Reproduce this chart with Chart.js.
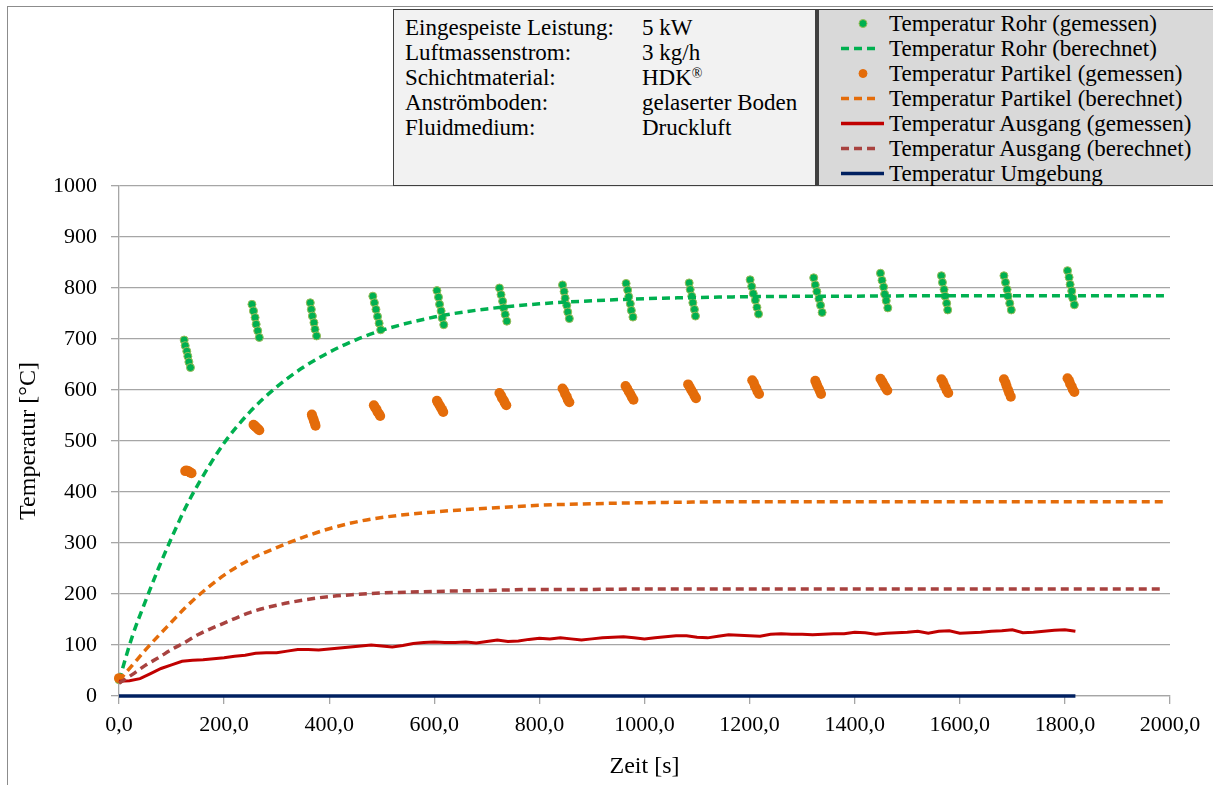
<!DOCTYPE html>
<html lang="de">
<head>
<meta charset="utf-8">
<title>Temperaturverlauf</title>
<script src="https://cdn.jsdelivr.net/npm/chart.js@4.4.1/dist/chart.umd.min.js"></script>
<style>
  html, body { margin: 0; padding: 0; background: #fff; }
  #wrap { position: relative; width: 1213px; height: 785px; overflow: hidden; font-family: "Liberation Serif", "Times New Roman", serif; }
  #frame { position: absolute; left: 7px; top: 6px; width: 1300px; height: 900px; border-left: 1px solid #8c8c8c; border-top: 1px solid #8c8c8c; }
  canvas { position: absolute; left: 0; top: 0; }
  .box { position: absolute; box-sizing: border-box; font-size: 23px; color: #000; }
  #info { left: 393px; top: 9px; width: 424px; height: 177px; background: #f2f2f2; border: 1px solid #404040; border-right: 2px solid #404040; }
  #legend { left: 817px; top: 9px; width: 420px; height: 177px; background: #d9d9d9; border: 1px solid #404040; border-left: 2px solid #404040; }
  .row { position: absolute; height: 25px; line-height: 25px; white-space: nowrap; }
  .row svg { position: absolute; top: 0; }
  sup { font-size: 14px; vertical-align: 7px; line-height: 0; }
</style>
</head>
<body>
<div id="wrap">
  <div id="frame"></div>
  <canvas id="myChart" width="1213" height="785"></canvas>
  <div id="info" class="box"></div>
  <div id="legend" class="box"></div>
</div>
<script>
// Versuchsparameter
const infoLabels = ["Eingespeiste Leistung:", "Luftmassenstrom:", "Schichtmaterial:", "Anströmboden:", "Fluidmedium:"];
const infoValues = ["5 kW", "3 kg/h", "HDK<sup>®</sup>", "gelaserter Boden", "Druckluft"];

// berechnete Verläufe
const zeitBerechnet = [0, 25, 50, 75, 100, 125, 150, 200, 250, 300, 350, 400, 450, 500, 600, 700, 800, 900, 1000, 1200, 1400, 1600, 1800, 1990];
const rohrBerechnet = [30, 116, 185, 250, 310, 366, 414, 496, 558, 606, 644, 674, 698, 717, 743, 759, 769, 775, 779, 783, 784, 785, 785, 785];
const partikelBerechnet = [30, 60, 90, 118, 145, 172, 196, 237, 268, 291, 311, 328, 341, 350, 361, 368, 374, 377, 379, 381, 381, 381, 381, 381];
const ausgangBerechnet = [25, 42, 60, 75, 91, 105, 120, 143, 164, 178, 188, 195, 199, 202, 205, 207, 209, 209, 210, 210, 210, 210, 210, 210];

// gemessen: Rohr
const rohrZeit = [0,
  124, 126, 129, 131, 133, 136,
  253, 256, 259, 261, 264, 267,
  364, 366, 368, 371, 373, 376,
  483, 486, 489, 492, 495, 498,
  605, 608, 610, 613, 615, 618,
  724, 727, 730, 732, 735, 738,
  844, 847, 849, 852, 854, 857,
  965, 968, 970, 973, 975, 978,
  1085, 1087, 1090, 1092, 1095, 1097,
  1201, 1204, 1207, 1211, 1214, 1217,
  1322, 1325, 1328, 1332, 1335, 1338,
  1449, 1452, 1455, 1457, 1460, 1463,
  1565, 1567, 1570, 1572, 1575, 1577,
  1684, 1687, 1690, 1692, 1695, 1698,
  1805, 1808, 1810, 1813, 1815, 1818];
const rohrGemessen = [32,
  698, 687, 676, 666, 655, 644,
  768, 755, 742, 729, 716, 703,
  771, 758, 745, 732, 719, 706,
  784, 771, 758, 744, 731, 718,
  795, 782, 768, 755, 741, 728,
  800, 787, 774, 761, 748, 735,
  806, 793, 780, 766, 753, 740,
  809, 796, 783, 769, 756, 743,
  810, 797, 784, 771, 758, 745,
  816, 803, 789, 776, 762, 749,
  820, 806, 793, 779, 766, 752,
  829, 815, 802, 788, 775, 761,
  824, 811, 797, 784, 770, 757,
  824, 811, 797, 784, 770, 757,
  834, 821, 807, 794, 780, 767];

// gemessen: Partikel
const partikelZeit = [0,
  126, 128, 131, 133, 136, 138,
  256, 258, 260, 263, 265, 267,
  367, 368, 370, 371, 373, 374,
  485, 487, 490, 492, 495, 497,
  605, 607, 610, 612, 615, 617,
  724, 727, 729, 732, 734, 737,
  844, 847, 849, 852, 854, 857,
  964, 967, 970, 973, 976, 979,
  1083, 1086, 1089, 1092, 1095, 1098,
  1205, 1208, 1210, 1213, 1215, 1218,
  1325, 1327, 1329, 1332, 1334, 1336,
  1449, 1452, 1454, 1457, 1459, 1462,
  1565, 1568, 1570, 1573, 1575, 1578,
  1684, 1687, 1689, 1692, 1694, 1697,
  1805, 1808, 1810, 1813, 1815, 1818];
const partikelGemessen = [35,
  441, 442, 441, 440, 438, 437,
  532, 530, 528, 525, 523, 521,
  552, 548, 543, 539, 534, 530,
  570, 566, 562, 557, 553, 549,
  579, 575, 570, 566, 561, 557,
  594, 589, 584, 580, 575, 570,
  603, 598, 592, 587, 581, 576,
  608, 603, 597, 592, 586, 581,
  611, 606, 600, 595, 589, 584,
  619, 614, 608, 603, 597, 592,
  618, 613, 608, 602, 597, 592,
  622, 617, 613, 608, 604, 599,
  621, 616, 610, 605, 599, 594,
  621, 614, 608, 600, 594, 587,
  623, 618, 612, 607, 601, 596];

// gemessen: Ausgang
const ausgangZeit = [0, 20, 40, 60, 80, 100, 120, 140, 160, 180,
  200, 220, 240, 260, 280, 300, 320, 340, 360, 380,
  400, 420, 440, 460, 480, 500, 520, 540, 560, 580,
  600, 620, 640, 660, 680, 700, 720, 740, 760, 780,
  800, 820, 840, 860, 880, 900, 920, 940, 960, 980,
  1000, 1020, 1040, 1060, 1080, 1100, 1120, 1140, 1160, 1180,
  1200, 1220, 1240, 1260, 1280, 1300, 1320, 1340, 1360, 1380,
  1400, 1420, 1440, 1460, 1480, 1500, 1520, 1540, 1560, 1580,
  1600, 1620, 1640, 1660, 1680, 1700, 1720, 1740, 1760, 1780,
  1800, 1820];
const ausgangGemessen = [29, 30, 34, 44, 54, 61, 68, 70, 71, 73,
  75, 78, 80, 84, 85, 85, 88, 91, 91, 90,
  92, 94, 96, 98, 100, 98, 96, 99, 103, 105,
  106, 105, 105, 106, 104, 107, 110, 107, 108, 111,
  113, 112, 114, 112, 110, 112, 114, 115, 116, 114,
  112, 114, 116, 118, 118, 115, 114, 117, 120, 119,
  118, 117, 121, 122, 121, 121, 120, 121, 122, 122,
  125, 124, 121, 123, 124, 125, 127, 123, 127, 128,
  123, 124, 125, 127, 128, 130, 124, 125, 127, 129,
  130, 127];

// Umgebung
const umgebungZeit = [0, 1820];
const umgebung = [0, 0];

const pts = (xs, ys) => xs.map((x, i) => ({ x: x, y: ys[i] }));
const serif = "'Liberation Serif', 'Times New Roman', serif";
const gridCol = "#a6a6a6";

const datasets = [
  { label: "Temperatur Rohr (gemessen)", data: pts(rohrZeit, rohrGemessen), showLine: false,
    pointRadius: 4, backgroundColor: "#00b050", borderColor: "#9bbb59", borderWidth: 1 },
  { label: "Temperatur Rohr (berechnet)", data: pts(zeitBerechnet, rohrBerechnet), borderColor: "#00b050",
    borderWidth: 3.5, borderDash: [8, 5], pointRadius: 0, cubicInterpolationMode: "monotone" },
  { label: "Temperatur Partikel (gemessen)", data: pts(partikelZeit, partikelGemessen), showLine: false,
    pointRadius: 5, backgroundColor: "#e46c0a", borderColor: "#e46c0a", borderWidth: 0 },
  { label: "Temperatur Partikel (berechnet)", data: pts(zeitBerechnet, partikelBerechnet), borderColor: "#e46c0a",
    borderWidth: 3.5, borderDash: [8, 5], pointRadius: 0, cubicInterpolationMode: "monotone" },
  { label: "Temperatur Ausgang (gemessen)", data: pts(ausgangZeit, ausgangGemessen), borderColor: "#c00000",
    borderWidth: 3, pointRadius: 0, tension: 0 },
  { label: "Temperatur Ausgang (berechnet)", data: pts(zeitBerechnet, ausgangBerechnet), borderColor: "#a8423f",
    borderWidth: 3.5, borderDash: [8, 5], pointRadius: 0, cubicInterpolationMode: "monotone" },
  { label: "Temperatur Umgebung", data: pts(umgebungZeit, umgebung), borderColor: "#002060",
    borderWidth: 3.5, pointRadius: 0 }
];
// later series on top, like in the original
datasets.forEach((d, i) => { d.order = datasets.length - i; d.fill = false; d.clip = 6; });

const ctx = document.getElementById("myChart").getContext("2d");
new Chart(ctx, {
  type: "line",
  data: { datasets: datasets },
  options: {
    responsive: false,
    animation: false,
    events: [],
    layout: { padding: { top: 186, right: 43, left: 0, bottom: 0 } },
    plugins: { legend: { display: false }, tooltip: { enabled: false } },
    scales: {
      x: {
        type: "linear", min: 0, max: 2000,
        afterFit: s => { s.height = 89; },
        ticks: { stepSize: 200, autoSkip: false, maxRotation: 0, padding: 8, color: "#000",
          font: { family: serif, size: 22 },
          callback: v => v.toFixed(1).replace(".", ",") },
        grid: { drawOnChartArea: false, tickLength: 8, color: gridCol, lineWidth: 1.3 },
        border: { color: gridCol, width: 1.3 },
        title: { display: true, text: "Zeit [s]", color: "#000", font: { family: serif, size: 24 },
          padding: { top: 0, bottom: 4 } }
      },
      y: {
        min: 0, max: 1000,
        afterFit: s => { s.width = 119; },
        ticks: { stepSize: 100, padding: 14, color: "#000", font: { family: serif, size: 22 },
          callback: v => String(v) },
        grid: { tickLength: 8, color: gridCol, lineWidth: 1.3 },
        border: { color: gridCol, width: 1.3 },
        title: { display: true, text: "Temperatur [°C]", color: "#000", font: { family: serif, size: 24 },
          padding: { top: 14, bottom: 0 } }
      }
    }
  }
});

// Infobox
const info = document.getElementById("info");
infoLabels.forEach((lab, i) => {
  const a = document.createElement("div");
  a.className = "row";
  a.style.top = (5 + i * 25) + "px";
  a.style.left = "11px";
  a.textContent = lab;
  const b = document.createElement("div");
  b.className = "row";
  b.style.top = (5 + i * 25) + "px";
  b.style.left = "248px";
  b.innerHTML = infoValues[i];
  info.appendChild(a);
  info.appendChild(b);
});

// Legende aus den Datensätzen
const legend = document.getElementById("legend");
datasets.forEach((d, i) => {
  const row = document.createElement("div");
  row.className = "row";
  row.style.top = (1 + i * 25) + "px";
  row.style.left = "0px";
  let sym;
  if (d.showLine === false) {
    sym = `<circle cx="24" cy="12.5" r="4" fill="${d.backgroundColor}" stroke="${d.borderColor}" stroke-width="1"/>`;
  } else if (d.borderDash) {
    sym = `<line x1="2" y1="12.5" x2="39" y2="12.5" stroke="${d.borderColor}" stroke-width="3.5" stroke-dasharray="8 5"/>`;
  } else {
    sym = `<line x1="2" y1="12.5" x2="45" y2="12.5" stroke="${d.borderColor}" stroke-width="3.5"/>`;
  }
  row.innerHTML = `<svg width="48" height="25" style="left:20px">${sym}</svg><span style="position:absolute;left:70px">${d.label}</span>`;
  legend.appendChild(row);
});
</script>
</body>
</html>
